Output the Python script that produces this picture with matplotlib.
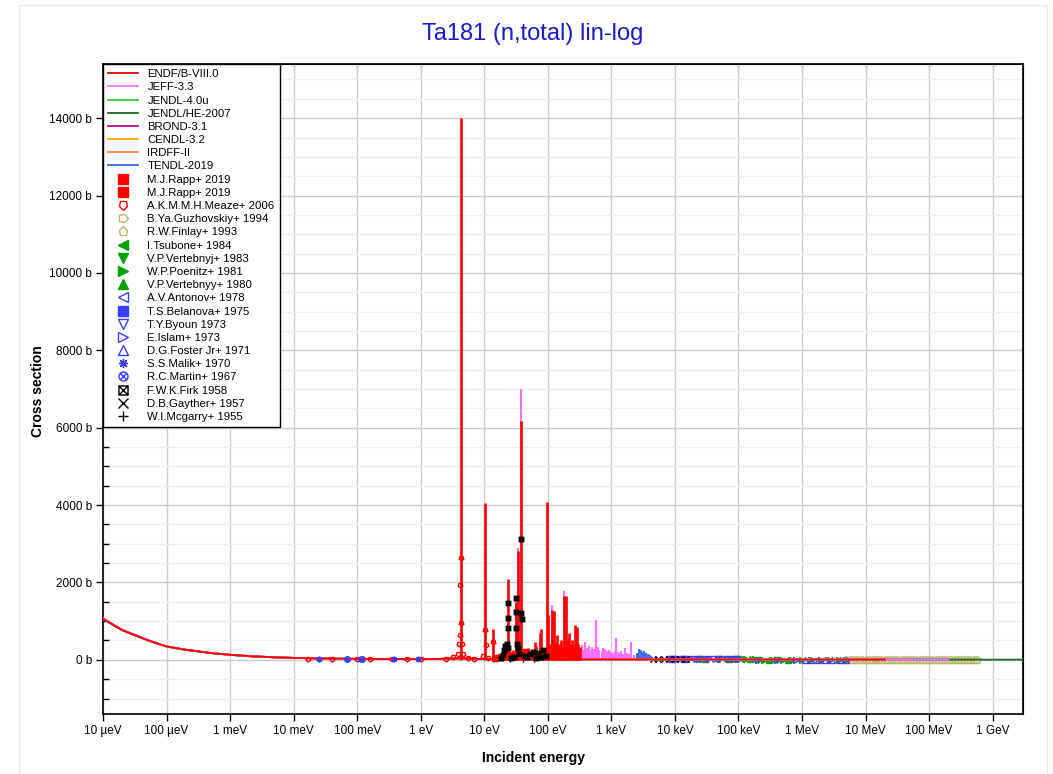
import matplotlib.pyplot as plt
import matplotlib.ticker as mticker
from matplotlib.markers import MarkerStyle
from matplotlib.path import Path
from matplotlib.transforms import Affine2D
from matplotlib.patches import Rectangle

plt.rcParams['font.family'] = ['Liberation Sans', 'DejaVu Sans']

# ---- evaluated libraries (energy in eV, cross section in b) ----
smooth_e = [1e-5, 2e-5, 5e-5, 1e-4, 2e-4, 5e-4, 1e-3, 2e-3, 5e-3, 1e-2, 3e-2, 0.1, 0.3,
            1.0, 2.0, 3.0, 6.0, 8.0, 20.0, 60.0, 200.0, 1e3, 5e3, 2e4, 1e5, 5e5, 1e6, 5e6, 2e7]
endf_xs = [1060, 770, 510, 345, 260, 175, 130, 95, 65, 50, 34, 24, 21,
           20, 24, 32, 40, 22, 15, 14, 13, 13, 12, 11, 9, 7.5, 6.6, 5.9, 5.3]
jeff_xs = [1080, 785, 518, 350, 263, 177, 131, 96, 66, 50, 34, 24, 21,
           20, 24, 32, 40, 22, 15, 14, 13, 13, 12, 11, 9, 7.5, 6.6, 5.9, 5.3]
he_e = [5e7, 1e8, 2e8, 5e8, 1e9, 3e9]
he_xs = [4.9, 4.6, 4.5, 4.5, 4.6, 4.7]

endf_emax = 2e7
jeff_emax = 2e8
jendl4_emax = 2e7
jendlhe_emax = 3e9
brond_emax = 2e7
cendl_emax = 2e7
irdff_emax = 6e7
tendl_emax = 2e8

# resolved resonance peaks
endf_res_e = [4.28, 10.3, 13.9, 20.3, 21.3, 23.2, 24.0, 28.0, 30.0, 32.0, 34.0, 37.8, 39.1, 44, 49,
              56, 61.7, 66, 74, 78.5, 84, 90, 97.7, 102, 108, 115, 121, 127, 133, 138, 145, 152,
              160, 170, 178, 187, 196, 204, 213, 222, 232, 243, 254, 264, 275, 287, 300, 312, 324]
endf_res_xs = [14000, 4050, 800, 300, 420, 2090, 350, 250, 200, 1500, 2800, 6160, 250, 180, 300,
               150, 470, 350, 700, 800, 250, 300, 4090, 1160, 400, 1290, 500, 1250, 450, 650, 400, 350,
               500, 350, 1650, 450, 1640, 500, 700, 400, 350, 500, 400, 900, 450, 860, 400, 300, 340]
jeff_res_e = [10.3, 32.0, 34.0, 37.8, 115, 178, 340, 360, 385, 410, 440, 470, 500, 530, 575, 610,
              650, 700, 750, 800, 860, 920, 990, 1060, 1140, 1200, 1260, 1320, 1420, 1530, 1650,
              1780, 1920, 2070, 2230]
jeff_res_xs = [3280, 1640, 2890, 7000, 1420, 1790, 380, 250, 450, 300, 350, 250, 330, 280, 1030, 320,
               260, 230, 300, 270, 220, 250, 200, 180, 240, 570, 200, 170, 220, 160, 300,
               180, 150, 460, 120]
tendl_res_e = [2300, 2500, 2700, 2900, 3100, 3300, 3500, 3800, 4100, 4400]
tendl_res_xs = [120, 180, 280, 250, 200, 230, 180, 160, 120, 80]

# ---- experimental data ----
rapp1_e = [15, 18, 26, 45, 70]
rapp1_xs = [60, 80, 120, 200, 150]
rapp2_e = [140, 180, 250]
rapp2_xs = [300, 250, 200]
meaze_e = [0.017, 0.025, 0.04, 0.1, 0.16, 0.35, 0.6, 1.0, 2.5, 3.2, 3.8, 4.05, 4.15, 4.22, 4.26,
           4.34, 4.45, 4.7, 5.5, 7, 9.5, 10.1, 10.5, 11.5, 13.9, 16]
meaze_xs = [30, 30, 28, 27, 25, 24, 22, 22, 30, 70, 160, 400, 650, 1940, 2640,
            950, 400, 150, 60, 30, 100, 780, 390, 60, 450, 40]
guzh_e = [1.35e7, 1.45e7]
guzh_xs = [5.3, 5.3]
finlay_e = [5.0e6, 5.6e6, 6.3e6, 7.0e6, 7.9e6, 8.9e6, 1.0e7, 1.12e7, 1.26e7, 1.41e7, 1.58e7,
            1.78e7, 2.0e7, 2.24e7, 2.51e7, 2.82e7, 3.16e7, 3.55e7, 3.98e7, 4.47e7, 5.01e7,
            5.62e7, 6.31e7, 7.08e7, 7.94e7, 8.91e7, 1.0e8, 1.12e8, 1.26e8, 1.41e8, 1.58e8,
            1.78e8, 2.0e8, 2.24e8, 2.51e8, 2.82e8, 3.16e8, 3.55e8, 3.98e8, 4.47e8, 5.01e8, 5.62e8]
finlay_xs = [5.9, 5.8, 5.7, 5.6, 5.5, 5.4, 5.3, 5.2, 5.1, 5.0, 5.0, 4.9, 4.9, 4.8, 4.8, 4.7,
             4.6, 4.5, 4.4, 4.4, 4.3, 4.3, 4.3, 4.3, 4.3, 4.4, 4.4, 4.4, 4.5, 4.5, 4.5, 4.5,
             4.5, 4.5, 4.5, 4.5, 4.5, 4.5, 4.5, 4.6, 4.6, 4.6]
tsubone_e = [2.2e4, 3.0e4, 4.2e4, 6.0e4, 8.0e4, 1.1e5]
tsubone_xs = [12, 11.5, 11, 10.5, 10, 9.5]
vertebnyj_e = [2.5e4, 5.0e4, 1.0e5, 2.0e5, 4.0e5]
vertebnyj_xs = [12, 11, 9.6, 8.5, 7.8]
poenitz_e = [1.3e5, 1.8e5, 2.5e5, 3.5e5, 5.0e5, 7.0e5, 1.0e6, 1.4e6, 2.0e6, 2.8e6, 3.8e6, 5.0e6]
poenitz_xs = [9.2, 8.8, 8.4, 8.0, 7.6, 7.1, 6.7, 6.5, 6.4, 6.3, 6.0, 5.8]
vertebnyy_e = [3.0e4, 7.0e4, 1.5e5, 3.0e5, 6.0e5]
vertebnyy_xs = [11.5, 10.2, 9.0, 8.1, 7.3]
antonov_e = [1.2e4, 2.0e4, 3.0e4, 4.5e4, 7.0e4]
antonov_xs = [13, 12, 11, 10.5, 9.5]
belanova_e = [9.0e3, 1.4e4]
belanova_xs = [14, 13]
byoun_e = [8e3, 1e4, 1.3e4, 1.6e4, 2e4, 2.5e4, 3.2e4, 4e4, 5e4, 6.3e4, 8e4, 9.5e4]
byoun_xs = [14, 13.5, 13, 12.5, 12, 11.5, 11, 10.8, 10.5, 10, 9.5, 9]
islam_e = [1.0e5, 2.0e5, 4.0e5, 8.0e5]
islam_xs = [9.2, 8.4, 7.7, 6.8]
foster_e = [1.1e6, 1.4e6, 1.8e6, 2.3e6, 3.0e6, 4.0e6, 5.0e6]
foster_xs = [6.6, 6.5, 6.4, 6.4, 6.2, 6.0, 5.8]
malik_e = [0.025, 0.07, 0.11, 0.38, 0.9]
malik_xs = [28, 26, 25, 22, 21]
martin_e = [0.07, 0.12]
martin_xs = [26, 25]
firk_e = [18, 19.5, 20.5, 21.5, 22.8, 23.2, 23.2, 23.2, 23.6, 26, 29, 31.6, 31.8, 32.0, 32.2,
          33.5, 35, 37.8, 38.5, 39.5, 43, 47, 52, 58, 64, 70, 77, 85, 92]
firk_xs = [40, 120, 250, 350, 400, 1470, 1080, 830, 300, 60, 80, 1600, 1240, 830, 400,
           300, 150, 3130, 1210, 1050, 100, 80, 150, 200, 60, 180, 70, 250, 90]
gayther_e = [4.5e3, 5.5e3, 6.8e3, 8.0e3, 1.0e4, 1.2e4, 1.5e4]
gayther_xs = [15, 15, 14, 14, 13, 13, 12]
mcgarry_e = [25, 40, 60]
mcgarry_xs = [20, 25, 18]

xtick_e = [1e-5, 1e-4, 1e-3, 1e-2, 1e-1, 1, 10, 100, 1e3, 1e4, 1e5, 1e6, 1e7, 1e8, 1e9]
xtick_labels = ['10 µeV', '100 µeV', '1 meV', '10 meV', '100 meV', '1 eV', '10 eV', '100 eV',
                '1 keV', '10 keV', '100 keV', '1 MeV', '10 MeV', '100 MeV', '1 GeV']


def lib_curve(xs, emax):
    e = smooth_e + he_e
    v = xs + he_xs
    keep = [i for i in range(len(e)) if e[i] <= emax]
    return [e[i] for i in keep], [v[i] for i in keep]


fig = plt.figure(figsize=(10.53, 7.74), dpi=100)
fig.add_artist(Rectangle((19 / 1053, -0.01), (1047 - 19) / 1053, 1 - 5 / 774 + 0.01,
                         transform=fig.transFigure, fill=False, edgecolor='#ececec', lw=1))
ax = fig.add_axes([103 / 1053, 1 - 714 / 774, 920 / 1053, 650 / 774])

h = {}
# libraries, bottom to top
h['jendlhe'], = ax.plot(*lib_curve(endf_xs, jendlhe_emax), color='#1c6b2c', lw=1.3, zorder=3)
h['tendl'], = ax.plot(*lib_curve(endf_xs, tendl_emax), color='#4169e1', lw=1.3, zorder=3)
ax.vlines(tendl_res_e, 0, tendl_res_xs, color='#4169e1', lw=1.4, zorder=3)
h['cendl'], = ax.plot(*lib_curve(endf_xs, cendl_emax), color='#ffa500', lw=1.3, zorder=3)
h['irdff'], = ax.plot(*lib_curve(endf_xs, irdff_emax), color='#ff7f50', lw=1.3, zorder=3)
h['brond'], = ax.plot(*lib_curve(endf_xs, brond_emax), color='#c00090', lw=1.3, zorder=3)
h['jendl4'], = ax.plot(*lib_curve(endf_xs, jendl4_emax), color='#33cc33', lw=1.3, zorder=3)
h['jeff'], = ax.plot(*lib_curve(jeff_xs, jeff_emax), color='#ff70ff', lw=1.3, zorder=3)
ax.vlines(jeff_res_e, 0, jeff_res_xs, color='#ff70ff', lw=1.5, zorder=3)
h['endf'], = ax.plot(*lib_curve(endf_xs, endf_emax), color='#ff0000', lw=1.3, zorder=4)
ax.vlines(endf_res_e, 0, endf_res_xs, color='#ff0000', lw=1.9, zorder=4)

# experimental data
blue = '#3d3dff'
green = '#00a000'
olive = '#bdb66a'
circle_x = Path.make_compound_path(
    Path.unit_circle(),
    Path([(-0.7, -0.7), (0.7, 0.7), (-0.7, 0.7), (0.7, -0.7)],
         [Path.MOVETO, Path.LINETO, Path.MOVETO, Path.LINETO]))
square_x = Path.make_compound_path(
    Path([(-1, -1), (1, -1), (1, 1), (-1, 1), (-1, -1)],
         [Path.MOVETO, Path.LINETO, Path.LINETO, Path.LINETO, Path.CLOSEPOLY]),
    Path([(-1, -1), (1, 1), (-1, 1), (1, -1)],
         [Path.MOVETO, Path.LINETO, Path.MOVETO, Path.LINETO]))

def pts(e, xs, marker, color, ms=4, hollow=False, z=2, **kw):
    line, = ax.plot(e, xs, ls='none', marker=marker, ms=ms, color=color,
                    mfc='none' if hollow else color, mew=1, zorder=z, **kw)
    return line

h['rapp1'] = pts(rapp1_e, rapp1_xs, 's', '#ff0000', ms=4.5)
h['rapp2'] = pts(rapp2_e, rapp2_xs, 's', '#ff0000', ms=4.5)
h['meaze'] = pts(meaze_e, meaze_xs, MarkerStyle('p', transform=Affine2D().rotate_deg(180)),
                 '#ff0000', ms=3.5, hollow=True, z=5)
h['guzh'] = pts(guzh_e, guzh_xs, MarkerStyle('p', transform=Affine2D().rotate_deg(-90)),
                olive, hollow=True)
h['finlay'] = pts(finlay_e, finlay_xs, 'p', olive, ms=5.5, hollow=True)
h['tsubone'] = pts(tsubone_e, tsubone_xs, '<', green)
h['vertebnyj'] = pts(vertebnyj_e, vertebnyj_xs, 'v', green)
h['poenitz'] = pts(poenitz_e, poenitz_xs, '>', green)
h['vertebnyy'] = pts(vertebnyy_e, vertebnyy_xs, '^', green)
h['antonov'] = pts(antonov_e, antonov_xs, '<', blue, hollow=True)
h['belanova'] = pts(belanova_e, belanova_xs, 's', blue)
h['byoun'] = pts(byoun_e, byoun_xs, 'v', blue, hollow=True)
h['islam'] = pts(islam_e, islam_xs, '>', blue, hollow=True)
h['foster'] = pts(foster_e, foster_xs, '^', blue, hollow=True)
h['malik'] = pts(malik_e, malik_xs, (8, 2, 0), blue, z=5)
h['martin'] = pts(martin_e, martin_xs, circle_x, blue, hollow=True)
h['firk'] = pts(firk_e, firk_xs, square_x, 'black', ms=3.2, hollow=True, z=5)
h['gayther'] = pts(gayther_e, gayther_xs, 'x', 'black')
h['mcgarry'] = pts(mcgarry_e, mcgarry_xs, '+', 'black')

ax.set_xscale('log')
ax.set_xlim(1e-5, 3e9)
ax.set_ylim(-1400, 15400)
ax.xaxis.set_major_locator(mticker.FixedLocator(xtick_e))
ax.xaxis.set_major_formatter(mticker.FixedFormatter(xtick_labels))
ax.xaxis.set_minor_locator(mticker.NullLocator())
ax.yaxis.set_major_locator(mticker.MultipleLocator(2000))
ax.yaxis.set_minor_locator(mticker.MultipleLocator(500))
ax.yaxis.set_major_formatter(mticker.FuncFormatter(lambda v, p: f'{v:.0f} b'))
ax.set_axisbelow(True)
ax.grid(which='major', color='#cccccc', lw=1)
ax.grid(which='minor', axis='y', color='#efefef', lw=1)
ax.tick_params(which='major', direction='out', length=5, width=1, labelsize=8.5, pad=3)
ax.tick_params(which='minor', direction='in', length=4, width=1)
for s in ax.spines.values():
    s.set_linewidth(1.2)

top = ax.secondary_xaxis('top')
top.xaxis.set_major_locator(mticker.FixedLocator(xtick_e))
top.xaxis.set_minor_locator(mticker.NullLocator())
top.tick_params(direction='in', length=3, labeltop=False)
right = ax.secondary_yaxis('right')
right.yaxis.set_major_locator(mticker.MultipleLocator(2000))
right.yaxis.set_minor_locator(mticker.MultipleLocator(500))
right.tick_params(which='both', direction='in', length=3, labelright=False)

fig.text(533 / 1053, 1 - 34 / 774, 'Ta181 (n,total) lin-log', ha='center', va='center',
         fontsize=17, color='#1a1acc')
fig.text(534 / 1053, 1 - 758 / 774, 'Incident energy', ha='center', va='center',
         fontsize=10, fontweight='bold')
fig.text(38 / 1053, 1 - 391 / 774, 'Cross section', ha='center', va='center',
         rotation=90, fontsize=10, fontweight='bold')

order = [('endf', 'ENDF/B-VIII.0'), ('jeff', 'JEFF-3.3'), ('jendl4', 'JENDL-4.0u'),
         ('jendlhe', 'JENDL/HE-2007'), ('brond', 'BROND-3.1'), ('cendl', 'CENDL-3.2'),
         ('irdff', 'IRDFF-II'), ('tendl', 'TENDL-2019'), ('rapp1', 'M.J.Rapp+ 2019'),
         ('rapp2', 'M.J.Rapp+ 2019'), ('meaze', 'A.K.M.M.H.Meaze+ 2006'),
         ('guzh', 'B.Ya.Guzhovskiy+ 1994'), ('finlay', 'R.W.Finlay+ 1993'),
         ('tsubone', 'I.Tsubone+ 1984'), ('vertebnyj', 'V.P.Vertebnyj+ 1983'),
         ('poenitz', 'W.P.Poenitz+ 1981'), ('vertebnyy', 'V.P.Vertebnyy+ 1980'),
         ('antonov', 'A.V.Antonov+ 1978'), ('belanova', 'T.S.Belanova+ 1975'),
         ('byoun', 'T.Y.Byoun 1973'), ('islam', 'E.Islam+ 1973'),
         ('foster', 'D.G.Foster Jr+ 1971'), ('malik', 'S.S.Malik+ 1970'),
         ('martin', 'R.C.Martin+ 1967'), ('firk', 'F.W.K.Firk 1958'),
         ('gayther', 'D.B.Gayther+ 1957'), ('mcgarry', 'W.I.Mcgarry+ 1955')]
leg = ax.legend([h[k] for k, _ in order], [t for _, t in order], loc='upper left',
                bbox_to_anchor=(0, 1), borderaxespad=0, fontsize=8.2, labelspacing=0.28,
                handlelength=2.6, handletextpad=0.85, borderpad=0.45, markerscale=1.0,
                fancybox=False, framealpha=1, edgecolor='black')
leg.get_frame().set_linewidth(1)
leg.set_zorder(10)
# legend symbols drawn at a fixed size, like the reference
for lh in leg.legend_handles:
    if lh.get_marker() not in (None, 'None', ''):
        lh.set_markersize(7.5 if lh.get_markerfacecolor() == lh.get_color() and lh.get_marker() == 's' else 6.5)

fig.savefig('out.png', dpi=100)
